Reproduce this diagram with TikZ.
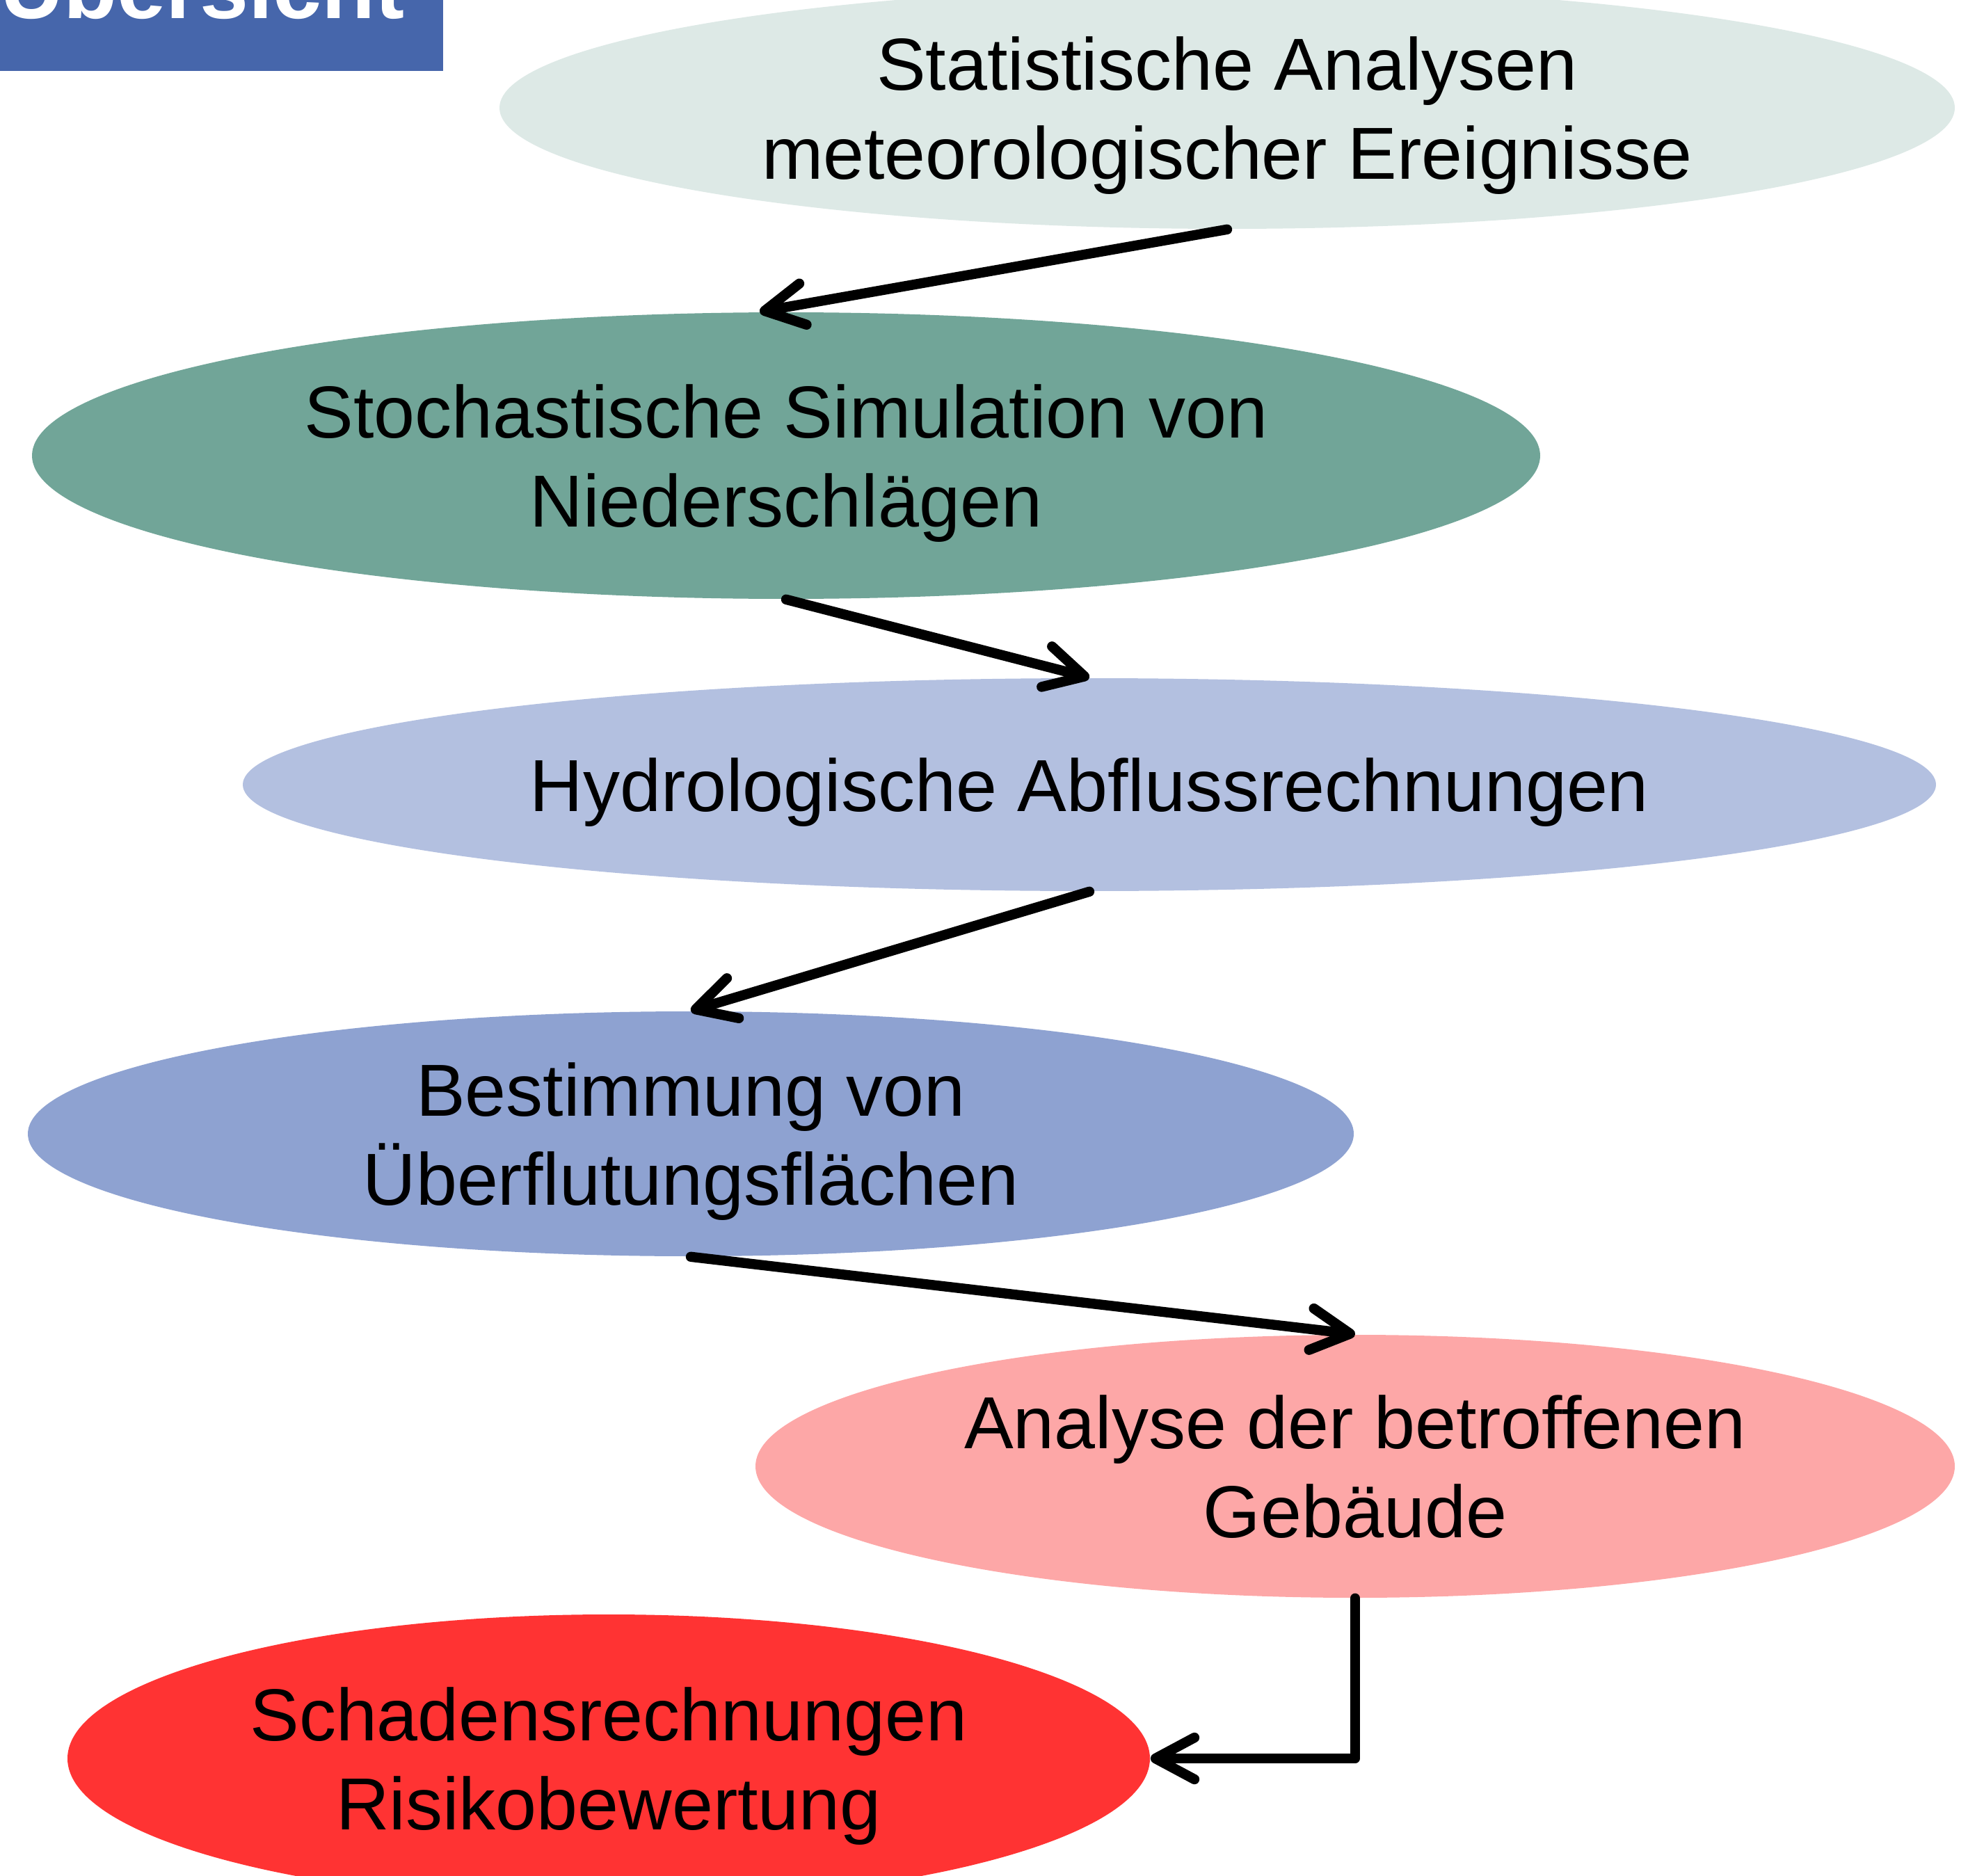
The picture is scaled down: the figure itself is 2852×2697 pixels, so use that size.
\documentclass[tikz,border=0pt]{standalone}
\usepackage{fontspec}
\setmainfont{Liberation Sans}
\usetikzlibrary{shapes.geometric,arrows.meta}
\definecolor{titleblue}{HTML}{4666AB}
\definecolor{cA}{HTML}{DDE9E6}
\definecolor{cB}{HTML}{71A598}
\definecolor{cC}{HTML}{B3C0E0}
\definecolor{cD}{HTML}{8EA2D1}
\definecolor{cE}{HTML}{FDA7A7}
\definecolor{cF}{HTML}{FF3333}
\tikzset{
  ell/.style={ellipse, inner sep=0pt, align=center, text depth=0pt, font=\fontsize{26.5}{31.8}\selectfont},
  arr/.style={line width=3.6pt, line cap=round, line join=round,
    -{Straight Barb[length=14pt,width=15pt,line cap=round,line join=round]}}
}
\begin{document}
\begin{tikzpicture}[x=0.25pt,y=-0.25pt]
\useasboundingbox (0,0) rectangle (2852,2697);
\fill[titleblue] (0,0) rectangle (637,102);
\node[anchor=base west, inner sep=0pt, text=white, font=\fontsize{31.5}{36}\selectfont\bfseries] (title) at (0,27) {Übersicht};

\node[ell, fill=cA, minimum width=523pt, minimum height=87pt] (e1) at (1764,155) {Statistische Analysen\\meteorologischer Ereignisse};
\node[ell, fill=cB, minimum width=542pt, minimum height=103pt] (e2) at (1130,655) {Stochastische Simulation von\\Niederschlägen};
\node[ell, fill=cC, minimum width=608.5pt, minimum height=76.5pt] (e3) at (1566,1128) {Hydrologische Abflussrechnungen};
\node[ell, fill=cD, minimum width=476.5pt, minimum height=88pt] (e4) at (993,1630) {Bestimmung von\\Überflutungsflächen};
\node[ell, fill=cE, minimum width=431pt, minimum height=94.5pt] (e5) at (1948,2108) {Analyse der betroffenen\\Gebäude};
\node[ell, fill=cF, minimum width=389pt, minimum height=103.5pt] (e6) at (875,2528) {Schadensrechnungen\\Risikobewertung};

\draw[arr] (e1.south) -- ([xshift=-9.5pt]e2.north);
\draw[arr] (e2.south) -- (e3.north);
\draw[arr] (e3.south) -- (e4.north);
\draw[arr] (e4.south) -- (e5.north);
\draw[arr] (e5.south) |- (e6.east);
\end{tikzpicture}
\end{document}
